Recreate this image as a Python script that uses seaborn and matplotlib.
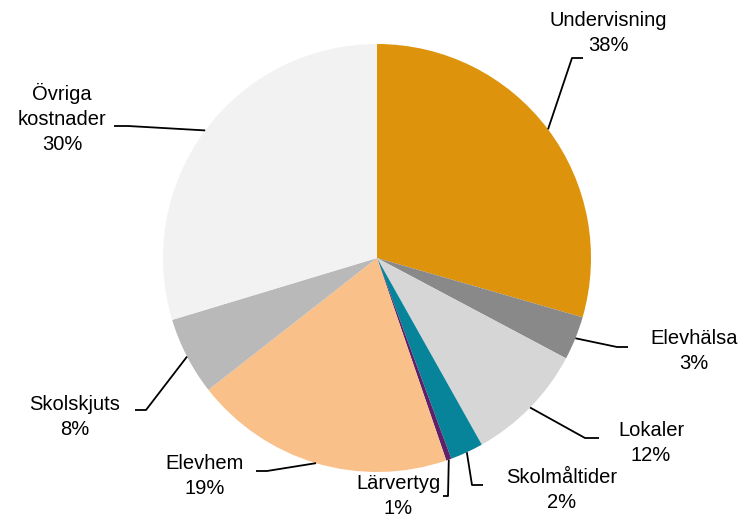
import numpy as np
import matplotlib
matplotlib.use("Agg")
import matplotlib.pyplot as plt
import seaborn as sns

# data (slice sizes, label texts as printed)
categories = ["Undervisning", "Elevhälsa", "Lokaler", "Skolmåltider",
              "Lärvertyg", "Elevhem", "Skolskjuts", "Övriga\nkostnader"]
values = [29.5, 3.3, 9.1, 2.5, 0.4, 19.7, 5.9, 29.7]
pct_labels = ["38%", "3%", "12%", "2%", "1%", "19%", "8%", "30%"]
colors = ["#DD930C", "#898989", "#D6D6D6", "#08849A",
          "#5E2169", "#FAC08A", "#B9B9B9", "#F2F2F2"]

sns.set_theme(style="white")
plt.rcParams['font.family'] = ['Liberation Sans', 'DejaVu Sans']

W, H = 744, 520
fig = plt.figure(figsize=(W / 100, H / 100), dpi=100)
ax = fig.add_axes([0, 0, 1, 1])

cx, cy, r = 377, H - 258, 214
wedges, _ = ax.pie(values, colors=colors, startangle=90, counterclock=False,
                   center=(cx, cy), radius=r, wedgeprops=dict(linewidth=0))

# label layout in pixel coordinates (x, y from top)
text_pos = [(608, 33), (694, 351), (651, 443), (562, 490),
            (398, 496), (205, 476), (75, 417), (62, 118)]
elbows = [[(572, 58), (583, 58)], [(617, 347), (628, 347)],
          [(585, 438), (599, 438)], [(472, 485), (483, 485)],
          [(448, 496), (443, 496)], [(267, 471), (256, 471)],
          [(146, 410), (135, 410)], [(128, 126), (114, 126)]]

for w, cat, pct, tp, el in zip(wedges, categories, pct_labels, text_pos, elbows):
    mid = np.deg2rad((w.theta1 + w.theta2) / 2)
    sx, sy = cx + r * np.cos(mid), cy + r * np.sin(mid)
    xs = [sx] + [p[0] for p in el]
    ys = [sy] + [H - p[1] for p in el]
    ax.plot(xs, ys, color="black", lw=1.3, solid_capstyle="butt")
    ax.text(tp[0], H - tp[1], cat + "\n" + pct, ha="center", va="center",
            multialignment="center", fontsize=14.5, linespacing=1.4,
            color="black")

ax.set_xlim(0, W)
ax.set_ylim(0, H)
ax.set_aspect("equal")
ax.set_axis_off()

fig.savefig("out.png", dpi=100)
